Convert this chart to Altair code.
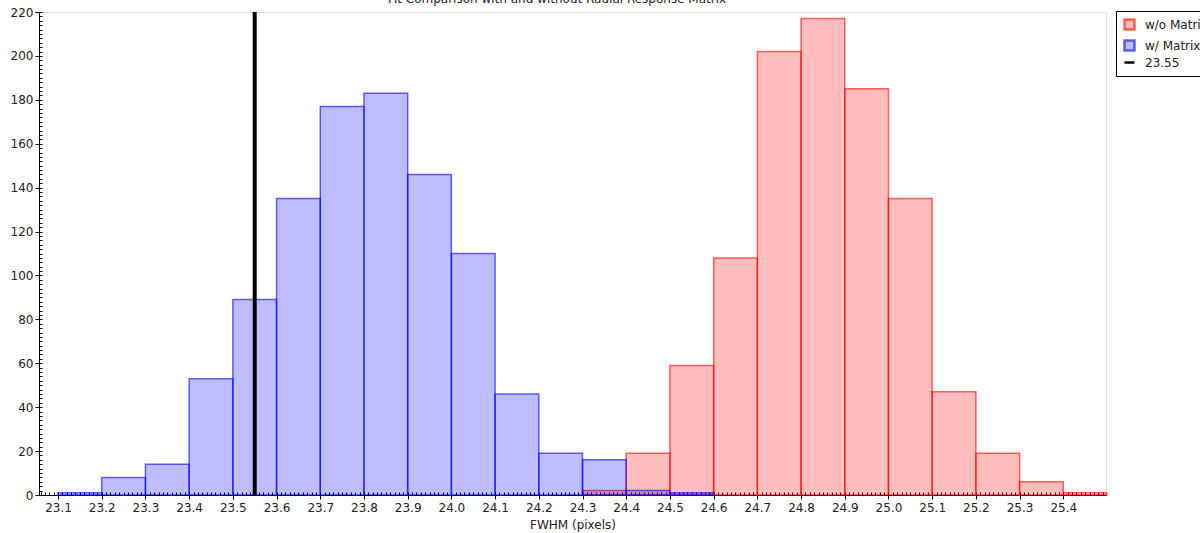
import altair as alt
import numpy as np
import pandas as pd

# ---- data ----
series_names = ["w/o Matrix", "w/ Matrix", "23.55"]

with_bin_starts = [23.1, 23.2, 23.3, 23.4, 23.5, 23.6, 23.7, 23.8, 23.9, 24.0,
                   24.1, 24.2, 24.3, 24.4, 24.5]
with_counts = [1, 8, 14, 53, 89, 135, 177, 183, 146, 110, 46, 19, 16, 2, 1]

without_bin_starts = [24.3, 24.4, 24.5, 24.6, 24.7, 24.8, 24.9, 25.0, 25.1,
                      25.2, 25.3, 25.4]
without_counts = [2, 19, 59, 108, 202, 217, 185, 135, 47, 19, 6, 1]

bin_width = 0.1
reference_value = 23.55

x_tick_labels = [round(23.1 + 0.1 * i, 1) for i in range(24)]
y_tick_labels = list(range(0, 221, 20))

title_text = "Fit Comparison with and without Radial Response Matrix"

# ---- tables ----
bars = pd.concat([
    pd.DataFrame({"series": "w/o Matrix", "start": without_bin_starts, "count": without_counts}),
    pd.DataFrame({"series": "w/ Matrix", "start": with_bin_starts, "count": with_counts}),
], ignore_index=True)
bars["end"] = bars["start"] + bin_width
bars["base"] = 0

ref = pd.DataFrame({"series": ["23.55"], "value": [reference_value], "zero": [0]})
title_df = pd.DataFrame({"t": [title_text]})

minor_x = [round(v, 2) for v in np.arange(23.06, 25.50, 0.01)]
minor_y = list(range(0, 221, 2))

FONT = "DejaVu Sans"
x_scale = alt.Scale(domain=[23.0565, 25.4977], nice=False, zero=False)
y_scale = alt.Scale(domain=[0, 220], nice=False)

fill_scale = alt.Scale(domain=series_names,
                       range=["rgba(255,0,0,0.26)", "rgba(0,0,255,0.26)", "rgba(0,0,0,0)"])
stroke_scale = alt.Scale(domain=series_names,
                         range=["rgba(255,0,0,0.6)", "rgba(0,0,255,0.6)", "#000000"])
shape_scale = alt.Scale(domain=series_names, range=["square", "square", "stroke"])

legend = alt.Legend(title=None, orient="none", legendX=1077, legendY=-1,
                    strokeColor="black", fillColor="white", padding=7,
                    labelFont=FONT, labelFontSize=12, labelColor="#222",
                    labelOffset=9, symbolSize=100, symbolStrokeWidth=2.5,
                    rowPadding=0, symbolOpacity=1)

main_x_axis = alt.Axis(values=x_tick_labels, format=".1f", title="FWHM (pixels)",
                       tickSize=4, tickColor="black", domainColor="black",
                       labelFont=FONT, labelFontSize=12, labelColor="#222",
                       titleFont=FONT, titleFontSize=12, titleFontWeight="normal",
                       titleColor="#222", labelPadding=3, titlePadding=6,
                       grid=False, labelFlush=False, orient="bottom")
main_y_axis = alt.Axis(values=y_tick_labels, title=None, tickSize=4, tickColor="black",
                       domainColor="black", labelFont=FONT, labelFontSize=12,
                       labelColor="#222", labelPadding=2, grid=False, orient="left")

bar_layer = alt.Chart(bars).mark_bar(strokeWidth=1.5).encode(
    x=alt.X("start:Q", scale=x_scale, axis=main_x_axis),
    x2="end:Q",
    y=alt.Y("count:Q", scale=y_scale, axis=main_y_axis),
    y2="base:Q",
    fill=alt.Fill("series:N", scale=fill_scale, legend=legend),
    stroke=alt.Stroke("series:N", scale=stroke_scale, legend=legend),
)

rule_layer = alt.Chart(ref).mark_rule(strokeWidth=4).encode(
    x=alt.X("value:Q", scale=x_scale, axis=None),
    stroke=alt.Stroke("series:N", scale=stroke_scale, legend=legend),
)

minor_layer = alt.Chart(ref).mark_point(opacity=0).encode(
    x=alt.X("value:Q", scale=x_scale,
            axis=alt.Axis(values=minor_x, labels=False, domain=False, ticks=True,
                          tickSize=3, tickColor="black", offset=-3, title=None,
                          grid=False, orient="bottom")),
    y=alt.Y("zero:Q", scale=y_scale,
            axis=alt.Axis(values=minor_y, labels=False, domain=False, ticks=True,
                          tickSize=3, tickColor="black", offset=-3, title=None,
                          grid=False, orient="left")),
    shape=alt.Shape("series:N", scale=shape_scale, legend=legend),
)

title_layer = alt.Chart(title_df).mark_text(
    font=FONT, fontSize=12, align="center", baseline="alphabetic", color="#222"
).encode(x=alt.value(518), y=alt.value(-9), text="t:N")

chart = alt.layer(bar_layer, rule_layer, minor_layer, title_layer).resolve_axis(
    x="independent", y="independent"
).properties(
    width=1067, height=483,
    autosize=alt.AutoSizeParams(type="none"),
    padding={"left": 39, "top": 12, "right": 94, "bottom": 38},
).configure_view(stroke="black", strokeWidth=1).configure(background="white")

chart.save("out.html", embed_options={"renderer": "svg", "actions": False})
